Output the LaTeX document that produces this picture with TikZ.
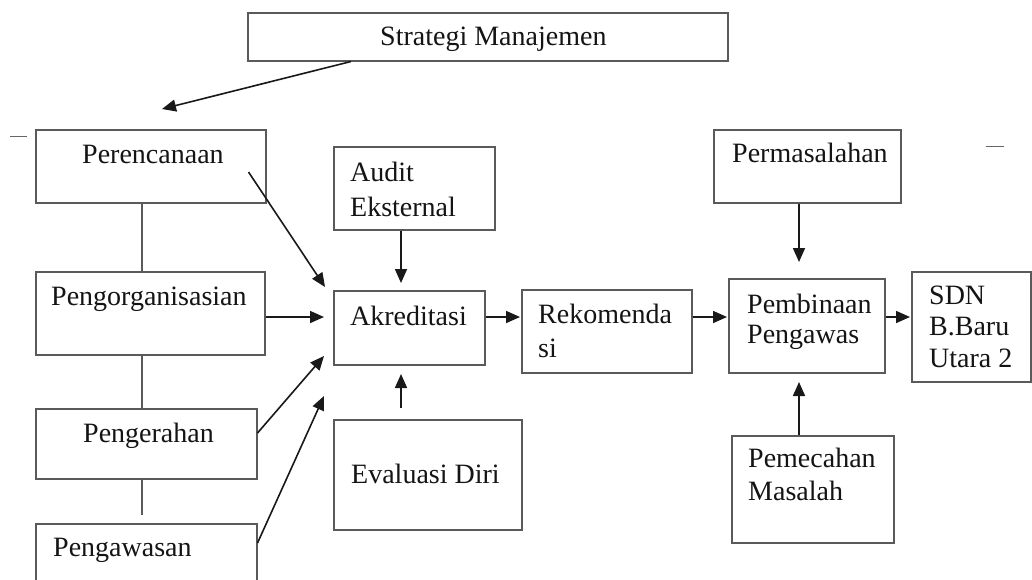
\documentclass[tikz,border=0pt]{standalone}
\usepackage{fontspec}
\setmainfont{Liberation Serif}
\usetikzlibrary{arrows.meta,calc}
\definecolor{boxc}{HTML}{5A5A5A}
\definecolor{txtc}{HTML}{141414}
\begin{document}
\begin{tikzpicture}[x=1pt,y=-1pt,
  box/.style={draw=boxc,line width=1.5pt,rectangle,inner sep=0pt,anchor=north west},
  lbl/.style={anchor=base west,inner sep=0pt,text=txtc,font=\fontsize{28}{30}\selectfont},
  arr/.style={draw=black!90,line width=1.6pt,-{Triangle[length=14pt,width=12pt]}},
  link/.style={draw=boxc,line width=1.5pt},
  straymark/.style={draw=black!60,line width=1pt}]
\fill[white] (0,0) rectangle (1032,579);
\clip (0,0) rectangle (1032,579);
% boxes
\node[box,minimum width=480,minimum height=48] (strat) at (247,12) {};
\node[box,minimum width=230,minimum height=73] (per) at (35,129) {};
\node[box,minimum width=161,minimum height=83] (aud) at (333,146) {};
\node[box,minimum width=187,minimum height=73] (permas) at (713,129) {};
\node[box,minimum width=229,minimum height=83] (pen) at (35,271) {};
\node[box,minimum width=151,minimum height=74] (ak) at (333,290) {};
\node[box,minimum width=170,minimum height=83] (rek) at (521,289) {};
\node[box,minimum width=156,minimum height=94] (pemb) at (728,278) {};
\node[box,minimum width=119,minimum height=110] (sdn) at (911,271) {};
\node[box,minimum width=221,minimum height=70] (peng) at (35,408) {};
\node[box,minimum width=188,minimum height=110] (eval) at (333,419) {};
\node[box,minimum width=162,minimum height=107] (pemec) at (731,435) {};
\node[box,minimum width=221,minimum height=80] (pengaw) at (35,523) {};
% texts
\node[lbl] (tstrat) at (380,45) {Strategi Manajemen};
\node[lbl] (tper) at (82,163) {Perencanaan};
\node[lbl] (taud1) at (350,181) {Audit};
\node[lbl] (taud2) at (350,216) {Eksternal};
\node[lbl] (tpermas) at (732,162) {Permasalahan};
\node[lbl] (tpen) at (51,305) {Pengorganisasian};
\node[lbl] (tak) at (350,325) {Akreditasi};
\node[lbl] (trek1) at (538,323) {Rekomenda};
\node[lbl] (trek2) at (538,357) {si};
\node[lbl] (tpemb1) at (747,313) {Pembinaan};
\node[lbl] (tpemb2) at (747,343) {Pengawas};
\node[lbl] (tsdn1) at (929,304) {SDN};
\node[lbl] (tsdn2) at (929,335) {B.Baru};
\node[lbl] (tsdn3) at (929,367) {Utara 2};
\node[lbl] (tpeng) at (83,442) {Pengerahan};
\node[lbl] (teval) at (351,483) {Evaluasi Diri};
\node[lbl] (tpemec1) at (748,467) {Pemecahan};
\node[lbl] (tpemec2) at (748,500) {Masalah};
\node[lbl] (tpengaw) at (53,556) {Pengawasan};
% free ends
\coordinate (s0) at (351,61);
\coordinate (t0) at (162,109);
\coordinate (t1) at (325,287);
\coordinate (t2) at (324,317);
\coordinate (t3) at (324,356);
\coordinate (t4) at (324,396);
\coordinate (t5) at (401,283);
\coordinate (e0) at (401,408);
\coordinate (t6) at (401,374);
\coordinate (t7) at (520,317);
\coordinate (t8) at (727,317);
\coordinate (t9) at (799,262);
\coordinate (t10) at (799,382);
\coordinate (t11) at (910,317);
\coordinate (l0) at (142,515);
% connectors
\draw[arr] (strat.south -| s0) -- (t0);
\draw[arr] ($(per.north east)+(-18,43)$) -- (t1);
\draw[arr] (pen.east |- t2) -- (t2);
\draw[arr] ($(peng.north east)+(0,25)$) -- (t3);
\draw[arr] ($(pengaw.north east)+(0,20)$) -- (t4);
\draw[arr] (aud.south -| t5) -- (t5);
\draw[arr] (e0) -- (t6);
\draw[arr] (ak.east |- t7) -- (t7);
\draw[arr] (rek.east |- t8) -- (t8);
\draw[arr] (permas.south -| t9) -- (t9);
\draw[arr] (pemec.north -| t10) -- (t10);
\draw[arr] (pemb.east |- t11) -- (t11);
\draw[link] (per.south -| l0) -- (pen.north -| l0);
\draw[link] (pen.south -| l0) -- (peng.north -| l0);
\draw[link] (peng.south -| l0) -- (l0);
% stray marks
\draw[straymark] (10,136) -- (27,136);
\draw[straymark] (986,146) -- (1004,146);
\end{tikzpicture}
\end{document}
